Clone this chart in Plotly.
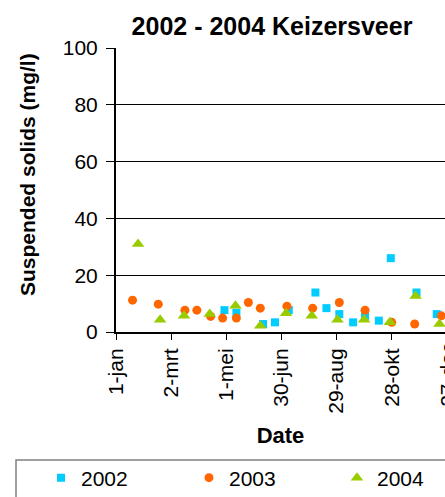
import plotly.graph_objects as go

# Day of year (1-jan = 0) and suspended solids (mg/l)
days_2002 = [118, 131, 160, 173, 188, 217, 229, 243, 258, 271, 286, 299, 327, 349]
ss_2002 = [7.7, 6.8, 2.8, 3.4, 7.7, 13.9, 8.4, 6.3, 3.4, 5.7, 4.0, 26.0, 13.9, 6.3]

days_2003 = [18, 46, 75, 88, 103, 116, 131, 144, 157, 186, 214, 243, 271, 300, 325, 354]
ss_2003 = [11.2, 9.8, 7.7, 7.7, 5.5, 4.9, 4.9, 10.4, 8.4, 9.1, 8.4, 10.4, 7.7, 3.4, 2.8, 5.7]

days_2004 = [24, 48, 74, 102, 130, 157, 185, 213, 241, 270, 298, 326, 352]
ss_2004 = [31.0, 4.3, 5.7, 6.3, 9.2, 2.2, 6.6, 5.7, 4.3, 4.3, 3.4, 12.7, 2.8]

tick_days = [0, 60, 120, 180, 240, 300]
tick_text = ["1-jan", "2-mrt", "1-mei", "30-jun", "29-aug", "28-okt"]
last_tick_day = 360
last_tick_text = "27-dec"
y_ticks = [0, 20, 40, 60, 80, 100]

FONT = "Liberation Sans, Arial, sans-serif"
W, H = 445, 497
ML, MT, MB = 116, 48, 165
PH = H - MT - MB
X_MAX = 358

def py(px):
    """pixel row -> paper y"""
    return (H - MB - px) / PH

fig = go.Figure()
fig.add_trace(go.Scatter(x=days_2002, y=ss_2002, mode="markers", name="2002", legend="legend",
                         marker=dict(symbol="square", size=8, color="#00CCFF")))
fig.add_trace(go.Scatter(x=days_2003, y=ss_2003, mode="markers", name="2003", legend="legend2",
                         marker=dict(symbol="circle", size=9, color="#FF6600")))
fig.add_trace(go.Scatter(x=days_2004, y=ss_2004, mode="markers", name="2004", legend="legend3",
                         marker=dict(symbol="triangle-up", size=11, color="#99CC00")))

leg = dict(orientation="h", xref="container", yref="container", xanchor="left",
           y=1 - 478 / H, yanchor="middle", font=dict(size=21),
           bgcolor="rgba(0,0,0,0)", borderwidth=0)

fig.update_layout(
    width=W, height=H,
    margin=dict(l=ML, r=0, t=MT, b=MB, pad=0, autoexpand=False),
    paper_bgcolor="white", plot_bgcolor="white",
    font=dict(family=FONT, size=21, color="black"),
    title=dict(text="<b>2002 - 2004 Keizersveer</b>", x=272 / W, xref="container",
               xanchor="center", y=1 - 26 / H, yref="container", yanchor="middle",
               font=dict(size=25, family=FONT, color="black")),
    xaxis=dict(range=[0, X_MAX], tickmode="array", tickvals=tick_days, ticktext=tick_text,
               tickangle=-90, ticks="outside", ticklen=6, tickcolor="black", tickwidth=1,
               showline=True, linecolor="black", linewidth=2, showgrid=False, zeroline=False,
               tickfont=dict(size=21), fixedrange=True, automargin=False,
               title=dict(text="<b>Date</b>", font=dict(size=22), standoff=15)),
    yaxis=dict(range=[0, 100], tickmode="array", tickvals=y_ticks,
               ticks="outside", ticklen=8, tickcolor="black", tickwidth=1,
               showline=True, linecolor="black", linewidth=2,
               showgrid=True, gridcolor="black", gridwidth=1, zeroline=False,
               tickfont=dict(size=21), ticklabelstandoff=4, fixedrange=True, automargin=False),
    showlegend=True,
    legend=dict(leg, x=41 / W),
    legend2=dict(leg, x=189 / W),
    legend3=dict(leg, x=337 / W),
    shapes=[dict(type="rect", xref="paper", yref="paper",
                 x0=(16 - ML) / (W - ML), x1=1.1,
                 y0=py(H + 30), y1=py(460),
                 line=dict(color="#808080", width=1.5), fillcolor="rgba(0,0,0,0)",
                 layer="below")],
    annotations=[
        dict(text="<b>Suspended solids (mg/l)</b>", textangle=-90, showarrow=False,
             xref="paper", yref="paper", x=(27 - ML) / (W - ML), y=py(175),
             xanchor="center", yanchor="middle", font=dict(size=21)),
        dict(text=last_tick_text, textangle=-90, showarrow=False,
             xref="paper", yref="paper", x=last_tick_day / X_MAX, y=0,
             xanchor="center", yanchor="top", yshift=-9, font=dict(size=21)),
    ],
)

fig.write_html("out.html", config={"displayModeBar": False, "staticPlot": True},
               post_script="document.body.style.margin='0';document.body.style.overflow='hidden';")
